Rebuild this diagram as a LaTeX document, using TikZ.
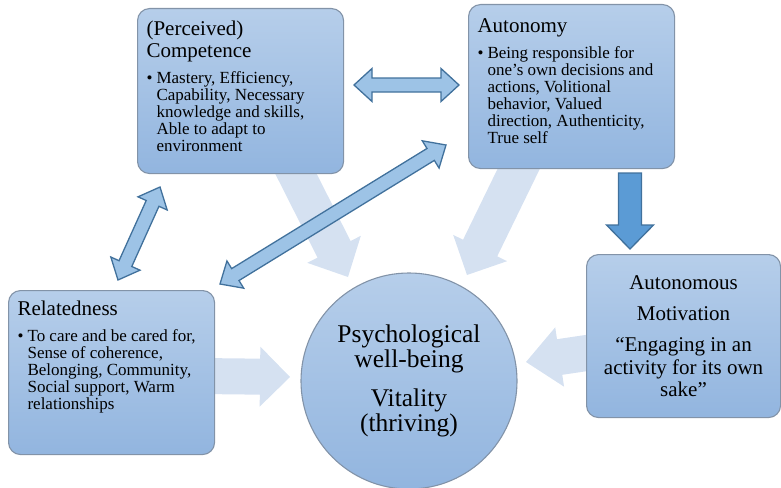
\documentclass[tikz,border=0pt]{standalone}
\usepackage{fontspec}
\setmainfont{Liberation Serif}
\usetikzlibrary{calc,positioning}

\definecolor{boxtop}{HTML}{B6CEEA}
\definecolor{boxbot}{HTML}{92B5DF}
\definecolor{boxline}{HTML}{8293A8}
\definecolor{faintblue}{HTML}{D5E1F1}
\definecolor{linkfill}{HTML}{9DC3E6}
\definecolor{linkline}{HTML}{41719C}
\definecolor{darkfill}{HTML}{5B9BD5}

% block arrow: style, from, to, shaft half width, head half width, head length
\newcommand{\blockarrow}[6]{%
  \coordinate (ba-h) at ($(#3)!#6!(#2)$);
  \path[#1] ($(#2)!#4!90:(#3)$) -- ($(ba-h)!#4!-90:(#2)$) -- ($(ba-h)!#5!-90:(#2)$) -- (#3)
    -- ($(ba-h)!#5!90:(#2)$) -- ($(ba-h)!#4!90:(#2)$) -- ($(#2)!#4!-90:(#3)$) -- cycle;
}
% double block arrow, same arguments
\newcommand{\dblarrow}[6]{%
  \coordinate (da-a) at ($(#2)!#6!(#3)$);
  \coordinate (da-b) at ($(#3)!#6!(#2)$);
  \path[#1] (#2) -- ($(da-a)!#5!90:(#3)$) -- ($(da-a)!#4!90:(#3)$) -- ($(da-b)!#4!-90:(#2)$)
    -- ($(da-b)!#5!-90:(#2)$) -- (#3) -- ($(da-b)!#5!90:(#2)$) -- ($(da-b)!#4!90:(#2)$)
    -- ($(da-a)!#4!-90:(#3)$) -- ($(da-a)!#5!-90:(#3)$) -- cycle;
}
\newcommand{\boxtitle}[2]{{\fontsize{21}{22}\selectfont\rule{0pt}{#1}#2\par}}
\newcommand{\boxitem}[1]{{\vspace{9pt}\fontsize{17}{17}\selectfont\leftskip=10pt\noindent\hspace*{-10pt}\makebox[10pt][l]{\textbullet}#1\par}}

\begin{document}
\begin{tikzpicture}
		[x=1pt,y=-1pt,
		main box/.style={shape=rectangle,draw=boxline,line width=1.1pt,rounded corners=12pt,top color=boxtop,bottom color=boxbot,inner xsep=9pt,inner ysep=0pt,anchor=north west},
		main circle/.style={shape=circle,draw=boxline,line width=1.1pt,top color=boxtop,bottom color=boxbot,minimum size=216pt,inner sep=0pt},
		faint arrow/.style={fill=faintblue},
		link arrow/.style={fill=linkfill,draw=linkline,line width=1.3pt,line join=miter},
		down arrow/.style={fill=darkfill,draw=linkline,line width=1.3pt,line join=miter}
		]
		\useasboundingbox (0,0) rectangle (781,487);
		
		% ends of the block arrows
		\coordinate (c1) at (289,160);
		\coordinate (c2) at (348,277);
		\coordinate (a1) at (523,160);
		\coordinate (a2) at (467,275);
		\coordinate (r1) at (200,376);
		\coordinate (r2) at (290,377);
		\coordinate (m1) at (600,351);
		\coordinate (m2) at (526,362);
		
		\blockarrow{faint arrow}{c1}{c2}{18.5pt}{30pt}{31pt}
		\blockarrow{faint arrow}{a1}{a2}{19pt}{30pt}{30pt}
		\blockarrow{faint arrow}{r1}{r2}{18pt}{30pt}{30pt}
		\blockarrow{faint arrow}{m1}{m2}{18pt}{30pt}{34pt}
		
		\node [main box] (1) at (137,8) {\parbox[b][165pt][t]{188pt}{\raggedright
			\boxtitle{27pt}{(Perceived)\\Competence}
			\boxitem{Mastery, Efficiency,\\Capability, Necessary\\knowledge and skills,\\Able to adapt to\\environment}}};
		\node [main box] (2) at (468,4) {\parbox[b][164pt][t]{188pt}{\raggedright
			\boxtitle{28pt}{Autonomy}
			\boxitem{Being responsible for\\one’s own decisions and\\actions, Volitional\\behavior, Valued\\direction, Authenticity,\\True self}}};
		\node [main box] (3) at (8,290) {\parbox[b][164pt][t]{188pt}{\raggedright
			\boxtitle{25pt}{Relatedness}
			\boxitem{To care and be cared for,\\Sense of coherence,\\Belonging, Community,\\Social support, Warm\\relationships}}};
		\node [main box] (4) at (586,254) {\parbox[b][163pt][t]{176pt}{\centering
			\fontsize{21}{22.5}\selectfont\rule{0pt}{35pt}Autonomous\par\vspace{8.5pt}
			Motivation\par\vspace{8.5pt}
			“Engaging in an\\activity for its own\\sake”\par}};
		\node [main circle] (5) at (409,381) {\parbox{170pt}{\centering
			\fontsize{25.5}{25}\selectfont Psychological\\well-being\par\vspace{14pt}
			Vitality\\(thriving)\par}};
		
		% links between the needs
		\coordinate (d1) at (354,85);
		\coordinate (d2) at (459,85);
		\coordinate (d3) at (160,187);
		\coordinate (d4) at (118,280);
		\coordinate (d5) at (446,145);
		\coordinate (d6) at (220,284);
		\coordinate (t1) at (630,173);
		\coordinate (t2) at (630,249);
		
		\dblarrow{link arrow}{d1}{d2}{7pt}{16.5pt}{18pt}
		\dblarrow{link arrow}{d3}{d4}{7pt}{16pt}{18pt}
		\dblarrow{link arrow}{d5}{d6}{7pt}{16pt}{18pt}
		\blockarrow{down arrow}{t1}{t2}{11.5pt}{23.5pt}{24pt}
		
		\end{tikzpicture}
\end{document}
